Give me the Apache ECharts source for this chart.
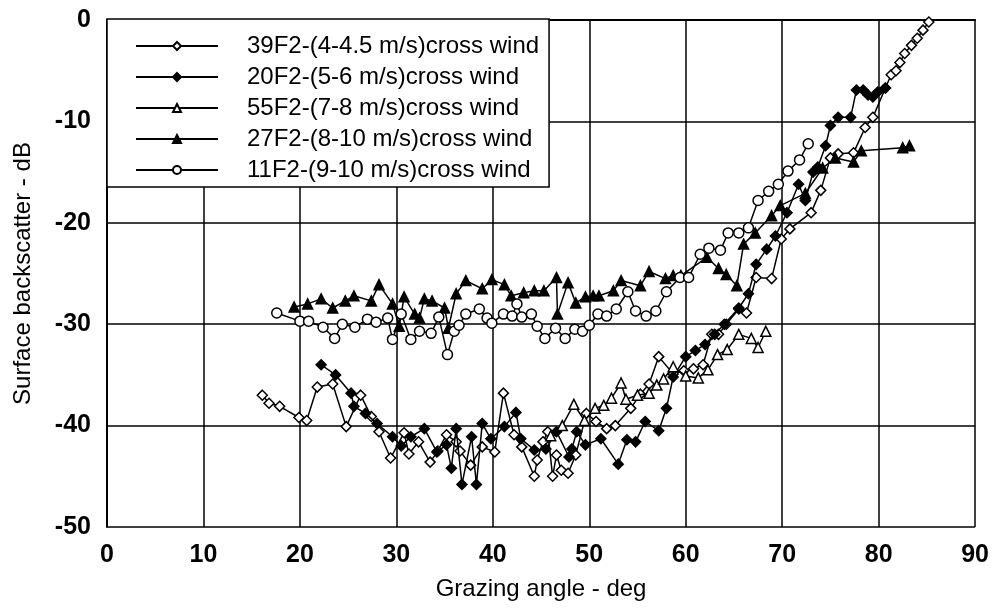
<!DOCTYPE html>
<html><head><meta charset="utf-8">
<script src="https://cdn.jsdelivr.net/npm/echarts@6/dist/echarts.min.js"></script>
<style>html,body{margin:0;padding:0;background:#fff}#c{width:992px;height:612px}</style>
</head><body><div id="c"></div>
<script>
var seriesNames = ['39F2-(4-4.5 m/s)cross wind','20F2-(5-6 m/s)cross wind','55F2-(7-8 m/s)cross wind','27F2-(8-10 m/s)cross wind','11F2-(9-10 m/s)cross wind'];
var xTicks = [0,10,20,30,40,50,60,70,80,90];
var yTicks = [-50,-40,-30,-20,-10,0];

var s39F2 = [[16.1,-37.0],[16.8,-37.8],[17.9,-38.1],[19.9,-39.2],[20.7,-39.5],[21.8,-36.2],[23.4,-35.9],[24.8,-40.1],[26.3,-37.0],[27.4,-39.1],[28.2,-40.6],[29.4,-43.2],[30.8,-40.7],[31.3,-42.8],[32.3,-41.6],[33.5,-43.6],[34.3,-42.5],[35.2,-40.9],[36.2,-41.6],[36.6,-42.5],[37.7,-43.9],[38.9,-42.1],[40.2,-42.6],[41.1,-36.8],[42.2,-40.9],[43.0,-42.1],[44.3,-45.0],[44.6,-43.4],[45.2,-41.6],[45.7,-40.6],[46.2,-45.0],[46.6,-42.9],[47.1,-44.4],[47.8,-44.7],[48.6,-42.9],[49.7,-38.8],[50.7,-39.6],[51.8,-40.3],[52.7,-40.0],[54.3,-38.3],[55.3,-36.9],[56.2,-35.9],[57.2,-33.2],[58.7,-34.9],[59.8,-34.6],[60.8,-34.4],[61.8,-34.0],[62.7,-31.0],[63.4,-31.0],[64.2,-30.0],[65.5,-28.5],[66.3,-28.9],[67.3,-25.4],[68.9,-25.5],[69.9,-21.6],[70.8,-20.6],[73.0,-19.0],[74.0,-16.8],[75.0,-13.6],[75.8,-13.2],[77.4,-13.1],[78.6,-10.6],[79.4,-9.6],[80.7,-6.7],[81.3,-5.4],[81.8,-5.0],[82.2,-4.2],[82.7,-3.3],[83.4,-2.5],[84.0,-1.8],[84.6,-1.0],[85.2,-0.2]];

var s20F2 = [[22.2,-34.0],[23.7,-35.0],[25.3,-36.8],[25.6,-38.1],[26.8,-38.8],[28.0,-39.8],[29.6,-41.1],[30.5,-42.0],[31.5,-41.1],[32.9,-40.3],[34.2,-42.6],[35.2,-41.9],[35.7,-44.2],[36.2,-40.3],[36.8,-45.8],[37.8,-41.1],[38.3,-45.8],[38.9,-39.8],[39.8,-41.3],[41.2,-40.1],[42.4,-38.7],[42.9,-41.3],[44.3,-42.4],[45.5,-42.3],[46.6,-40.6],[47.9,-43.1],[48.2,-42.3],[48.7,-40.6],[49.6,-41.9],[51.2,-41.3],[53.0,-43.8],[53.9,-41.4],[54.8,-41.6],[55.8,-39.6],[57.2,-40.5],[58.0,-38.3],[58.7,-35.2],[60.0,-33.2],[61.0,-32.6],[62.0,-32.0],[63.0,-31.0],[64.0,-30.0],[65.5,-28.4],[66.5,-27.0],[67.3,-24.1],[68.4,-22.6],[69.3,-21.3],[70.5,-19.0],[71.7,-16.2],[72.4,-17.8],[73.2,-15.0],[73.7,-14.5],[74.5,-12.4],[75.0,-10.4],[75.8,-9.6],[77.1,-9.6],[77.7,-6.9],[78.4,-6.9],[78.9,-7.4],[79.4,-7.6],[79.9,-7.1],[80.7,-6.7]];

var s55F2 = [[46.0,-41.0],[47.2,-40.0],[48.4,-37.9],[49.5,-39.5],[50.6,-38.3],[51.5,-38.0],[52.3,-37.3],[53.3,-35.8],[53.8,-37.4],[55.0,-37.0],[56.2,-36.8],[57.0,-36.0],[57.7,-35.4],[58.7,-34.2],[60.0,-35.1],[61.3,-35.3],[62.3,-34.5],[63.3,-33.0],[64.3,-32.5],[65.5,-31.0],[66.8,-31.4],[67.5,-32.3],[68.3,-30.7]];

var s27F2 = [[19.4,-28.3],[20.8,-28.0],[22.2,-27.5],[23.4,-28.4],[24.7,-27.7],[25.6,-27.2],[27.4,-27.7],[28.2,-26.1],[29.6,-28.0],[30.3,-30.2],[30.8,-27.3],[31.9,-29.0],[32.4,-29.4],[32.9,-27.5],[33.7,-27.7],[35.0,-28.4],[35.4,-30.4],[36.2,-27.0],[37.2,-25.7],[38.9,-26.5],[39.9,-25.6],[41.2,-26.1],[41.9,-27.2],[43.2,-26.9],[44.3,-26.7],[45.3,-26.7],[46.6,-25.4],[46.7,-29.0],[47.8,-25.9],[48.6,-27.9],[49.6,-27.3],[50.4,-27.2],[51.0,-27.2],[52.5,-26.7],[53.3,-25.7],[55.3,-26.2],[56.2,-24.8],[57.9,-25.5],[58.7,-25.2],[59.5,-25.2],[62.2,-23.4],[63.4,-24.5],[64.2,-25.1],[65.3,-26.2],[66.0,-22.1],[67.2,-21.0],[68.9,-19.3],[69.8,-18.3],[72.4,-17.1],[74.2,-14.6],[75.5,-13.6],[77.4,-14.0],[78.2,-12.9],[82.5,-12.6],[83.2,-12.4]];

var s11F2 = [[17.6,-28.9],[20.0,-29.7],[20.9,-29.7],[22.4,-30.3],[23.6,-31.4],[24.4,-30.0],[25.7,-30.3],[27.0,-29.5],[27.9,-29.8],[29.1,-29.4],[29.6,-31.5],[30.5,-29.0],[31.5,-31.5],[32.4,-30.7],[33.6,-30.9],[34.4,-29.3],[35.3,-33.0],[36.0,-30.7],[36.5,-30.1],[37.2,-29.0],[38.6,-28.5],[39.4,-29.4],[39.9,-29.9],[41.1,-29.0],[42.0,-29.2],[42.5,-28.0],[43.0,-29.3],[44.0,-29.0],[44.6,-30.2],[45.4,-31.4],[46.5,-30.4],[47.5,-31.4],[48.5,-30.5],[49.3,-30.7],[50.0,-30.1],[50.9,-29.0],[51.8,-29.2],[52.8,-28.5],[54.0,-26.8],[54.8,-28.7],[55.9,-29.2],[56.9,-28.7],[58.0,-26.8],[59.4,-25.4],[60.3,-25.4],[61.5,-23.1],[62.4,-22.5],[63.6,-22.7],[64.4,-21.0],[65.5,-21.0],[66.5,-20.5],[67.5,-17.8],[68.6,-16.9],[69.6,-16.2],[70.6,-14.9],[71.8,-13.8],[72.7,-12.2]];

var seriesData = [s39F2, s20F2, s55F2, s27F2, s11F2];
var symbols = ['diamond','diamond','triangle','triangle','circle'];
var filled = [false, true, false, true, false];
var sizes = [10, 10, 10, 10, 10];

var FONT = '"Liberation Sans", Arial, Helvetica, sans-serif';
var chart = echarts.init(document.getElementById('c'), null, {renderer:'canvas'});

var series = seriesNames.map(function(n, i){
  return {
    name: n, type: 'line', data: seriesData[i],
    symbol: symbols[i], symbolSize: sizes[i], showAllSymbol: true,
    lineStyle: {color:'#000', width:1.5},
    itemStyle: {color: filled[i] ? '#000' : '#fff', borderColor:'#000', borderWidth:1.5},
    emphasis: {disabled:true}, animation:false, z: 3 + i
  };
});

chart.setOption({
  animation:false,
  backgroundColor:'#fff',
  grid:{left:107, right:15, top:20, bottom:85},
  legend:{
    left:107, top:19, orient:'vertical',
    backgroundColor:'#fff', borderColor:'#000', borderWidth:1.5, borderRadius:0,
    padding:[15, 10, 5, 28], itemGap:7, itemWidth:82, itemHeight:10,
    textStyle:{fontFamily:FONT, fontSize:24, color:'#000', lineHeight:24, padding:[0,0,0,24]},
    data: seriesNames, z:10
  },
  xAxis:{
    type:'value', min:0, max:90, interval:10,
    name:'Grazing angle - deg', nameLocation:'middle', nameGap:50,
    nameTextStyle:{fontFamily:FONT, fontSize:24, color:'#000'},
    axisLine:{lineStyle:{color:'#000', width:2}}, axisTick:{show:false},
    axisLabel:{fontFamily:FONT, fontSize:25, fontWeight:'bold', color:'#000', margin:16,
      formatter:function(v){return xTicks.indexOf(v)>=0 ? String(v) : '';}},
    splitLine:{show:true, lineStyle:{color:'#000', width:1.5}}
  },
  yAxis:{
    type:'value', min:-50, max:0, interval:10,
    name:'Surface backscatter - dB', nameLocation:'middle', nameGap:72, nameRotate:90,
    nameTextStyle:{fontFamily:FONT, fontSize:24, color:'#000'},
    axisLine:{show:true, lineStyle:{color:'#000', width:2}}, axisTick:{show:false},
    axisLabel:{fontFamily:FONT, fontSize:25, fontWeight:'bold', color:'#000', margin:16,
      formatter:function(v){return yTicks.indexOf(v)>=0 ? String(v) : '';}},
    splitLine:{show:true, lineStyle:{color:'#000', width:1.5}}
  },
  series: series
});
</script></body></html>
